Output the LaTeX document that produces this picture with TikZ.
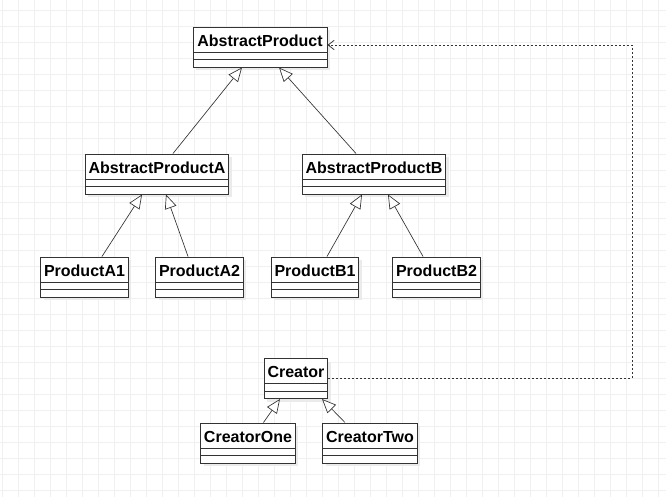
\documentclass[tikz,border=0pt]{standalone}
\usepackage{fontspec}
\setmainfont{Liberation Sans}
\usetikzlibrary{arrows.meta,shadows}

\begin{document}
\begin{tikzpicture}[x=0.75pt,y=-0.75pt,
    font=\fontsize{12}{14}\selectfont\bfseries,
    class/.style={draw=black!80, line width=0.75pt, fill=white,
      inner xsep=2.6pt, inner ysep=2.25pt, text height=12pt, text depth=13.5pt,
      drop shadow={shadow xshift=2.25pt, shadow yshift=-2.25pt, fill=black!8, opacity=1},
      path picture={\draw[black!80, line width=0.75pt]
        ([yshift=11.25pt]path picture bounding box.south west) -- ([yshift=11.25pt]path picture bounding box.south east)
        ([yshift=5.6pt]path picture bounding box.south west) -- ([yshift=5.6pt]path picture bounding box.south east);}},
    inherit/.style={-{Triangle[fill=white, length=10.5pt, width=9pt]}, color=black!80, line width=0.5pt},
    depend/.style={-{Straight Barb[length=4.5pt, width=7pt]}, draw=black!80, line width=0.6pt, dash pattern=on 1.5pt off 1.5pt},
    gridline/.style={draw=black!6, line width=0.75pt}]
    \useasboundingbox (0,0) rectangle (666,497);

    % background grid
    \foreach \gx in {0,...,41}
      \draw[gridline] ({2.7+16*\gx},0) -- ({2.7+16*\gx},497);
    \foreach \gy in {0,...,30}
      \draw[gridline] (0,{10+16*\gy}) -- (666,{10+16*\gy});

    \node[class, minimum width=100.5pt] (ap) at (260,47) {AbstractProduct};
    \node[class] (ap_a) at (157,174) {AbstractProductA};
    \node[class] (ap_b) at (374,174) {AbstractProductB};
    \node[class] (p_a1) at (84.5,277) {ProductA1};
    \node[class] (p_a2) at (199.5,277) {ProductA2};
    \node[class] (p_b1) at (315,277) {ProductB1};
    \node[class] (p_b2) at (436.5,277) {ProductB2};
    \node[class] (cr) at (296,378.5) {Creator};
    \node[class] (cr_1) at (248,443) {CreatorOne};
    \node[class] (cr_2) at (370,443) {CreatorTwo};
    \coordinate (turn) at (632,200);

    \path[inherit]
    ([xshift=12pt]ap_a.north) edge ([xshift=-13.5pt]ap.south)
    ([xshift=-13.5pt]ap_b.north) edge ([xshift=14.25pt]ap.south)
    ([xshift=13.1pt]p_a1.north) edge ([xshift=-11.25pt]ap_a.south)
    ([xshift=-8.6pt]p_a2.north) edge ([xshift=6.75pt]ap_a.south)
    ([xshift=9pt]p_b1.north) edge ([xshift=-9pt]ap_b.south)
    ([xshift=-10.1pt]p_b2.north) edge ([xshift=10.5pt]ap_b.south)
    ([xshift=11.6pt]cr_1.north) edge ([xshift=-12pt]cr.south)
    ([xshift=-18.75pt]cr_2.north) edge ([xshift=19.5pt]cr.south);

    \draw[depend] (cr.east) -| (turn) |- ([yshift=1.5pt]ap.east);
  \end{tikzpicture}
\end{document}
